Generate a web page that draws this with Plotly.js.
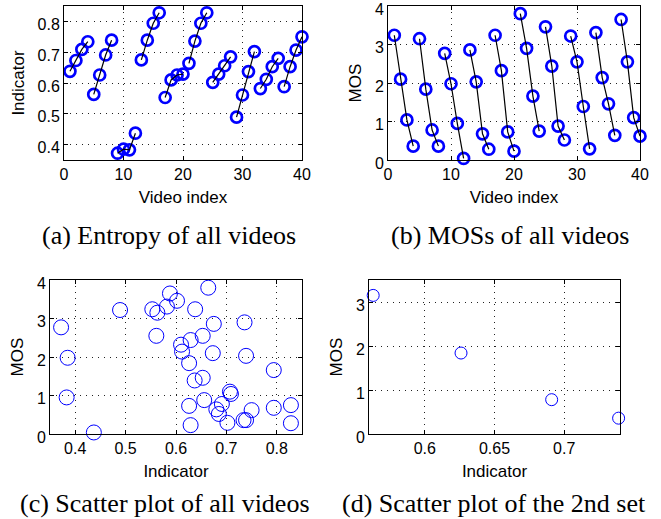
<!DOCTYPE html>
<html>
<head>
<meta charset="utf-8">
<script src="https://cdn.plot.ly/plotly-3.0.1.min.js"></script>
<style>html,body{margin:0;padding:0;background:#fff;}#chart{width:661px;height:519px;}</style>
</head>
<body>
<div id="chart"></div>
<script>
// Video indices 1..40
var videoIndex = [];
for (var i = 1; i <= 40; i++) videoIndex.push(i);

// Indicator (entropy) per video
var indicator = [0.638, 0.673, 0.709, 0.734, 0.563, 0.626, 0.691, 0.739,
                 0.372, 0.385, 0.383, 0.437, 0.675, 0.739, 0.794, 0.828,
                 0.553, 0.610, 0.626, 0.629, 0.664, 0.736, 0.794, 0.828,
                 0.602, 0.629, 0.656, 0.685, 0.489, 0.561, 0.637, 0.702,
                 0.582, 0.612, 0.653, 0.680, 0.588, 0.653, 0.707, 0.750];

// MOS per video
var mos = [3.24, 2.10, 1.04, 0.36, 3.15, 1.84, 0.78, 0.36,
           2.77, 1.98, 0.95, 0.04, 2.86, 2.03, 0.68, 0.28,
           3.24, 2.32, 0.73, 0.23, 3.80, 2.90, 1.66, 0.75,
           3.46, 2.44, 0.88, 0.52, 3.22, 2.55, 1.39, 0.29,
           3.31, 2.14, 1.46, 0.64, 3.65, 2.55, 1.10, 0.62];

var groupSize = 4;
var secondSet = 1; // 0-based index of the 2nd set

var captions = ["(a) Entropy of all videos", "(b) MOSs of all videos",
                "(c) Scatter plot of all videos", "(d) Scatter plot of the 2nd set"];

// build group-wise line data (null separators between groups)
function groupLines(xs, ys) {
  var gx = [], gy = [];
  for (var g = 0; g < xs.length / groupSize; g++) {
    for (var k = 0; k < groupSize; k++) {
      gx.push(xs[g * groupSize + k]); gy.push(ys[g * groupSize + k]);
    }
    gx.push(null); gy.push(null);
  }
  return {x: gx, y: gy};
}
var la = groupLines(videoIndex, indicator);
var lb = groupLines(videoIndex, mos);
var setX = indicator.slice(secondSet * groupSize, (secondSet + 1) * groupSize);
var setY = mos.slice(secondSet * groupSize, (secondSet + 1) * groupSize);

var blue = '#0000ff';
var thickMarker = {symbol: 'circle-open', size: 11, color: blue, line: {width: 2.7, color: blue}};
var thinMarker = {symbol: 'circle-open', size: 15, color: blue, line: {width: 1, color: blue}};

var traces = [
  {x: videoIndex, y: indicator, mode: 'markers', marker: thickMarker, xaxis: 'x', yaxis: 'y', cliponaxis: false},
  {x: la.x, y: la.y, mode: 'lines', line: {color: '#000', width: 1.2}, connectgaps: false, xaxis: 'x', yaxis: 'y'},
  {x: videoIndex, y: mos, mode: 'markers', marker: thickMarker, xaxis: 'x2', yaxis: 'y2', cliponaxis: false},
  {x: lb.x, y: lb.y, mode: 'lines', line: {color: '#000', width: 1.2}, connectgaps: false, xaxis: 'x2', yaxis: 'y2'},
  {x: indicator, y: mos, mode: 'markers', marker: thinMarker, xaxis: 'x3', yaxis: 'y3', cliponaxis: false},
  {x: setX, y: setY, mode: 'markers', marker: {symbol: 'circle-open', size: 12, color: blue, line: {width: 1, color: blue}}, xaxis: 'x4', yaxis: 'y4', cliponaxis: false}
];

var tickFont = {family: 'Liberation Sans, Arial, sans-serif', size: 16, color: '#000'};
var titleFont = {family: 'Liberation Sans, Arial, sans-serif', size: 17, color: '#000'};

function ax(domain, range, dtick, anchor, title, tick0, standoff, isY) {
  var a = {
    domain: domain, range: range, dtick: dtick, tick0: tick0 || 0, tickmode: 'linear',
    anchor: anchor, showline: true, mirror: 'ticks', linecolor: '#000', linewidth: 1,
    ticks: 'inside', ticklen: 4, tickcolor: '#000', ticklabeloverflow: 'allow',
    showgrid: true, gridcolor: '#222', griddash: '1px,5px', gridwidth: 1,
    zeroline: false, tickfont: tickFont, automargin: false,
    title: {text: title, font: titleFont, standoff: standoff}
  };
  if (isY) a.ticklabelshift = 3;
  return a;
}

function py(p) { return 1 - p / 519; }
function px(p) { return p / 661; }

var layout = {
  width: 661, height: 519,
  margin: {l: 0, r: 0, t: 0, b: 0},
  paper_bgcolor: '#fff', plot_bgcolor: '#fff',
  showlegend: false,
  xaxis: ax([px(64), px(302)], [0, 40], 10, 'y', 'Video index', 0, 8),
  yaxis: ax([py(160), py(6)], [0.35, 0.85], 0.1, 'x', 'Indicator', 0.4, 8, true),
  xaxis2: ax([px(388), px(640)], [0, 40], 10, 'y2', 'Video index', 0, 8),
  yaxis2: ax([py(160), py(6)], [0, 4], 1, 'x2', 'MOS', 0, 8, true),
  xaxis3: ax([px(50), px(302)], [0.35, 0.85], 0.1, 'y3', 'Indicator', 0.4, 8),
  yaxis3: ax([py(434), py(280)], [0, 4], 1, 'x3', 'MOS', 0, 8, true),
  xaxis4: ax([px(369), px(620)], [0.56, 0.74], 0.05, 'y4', 'Indicator', 0.6, 8),
  yaxis4: ax([py(434), py(280)], [0, 3.5], 1, 'x4', 'MOS', 0, 8, true),
  annotations: [
    {text: captions[0], x: px(169), y: py(236)},
    {text: captions[1], x: px(510), y: py(236)},
    {text: captions[2], x: px(165), y: py(503)},
    {text: captions[3], x: px(494), y: py(503)}
  ].map(function (a) {
    a.xref = 'paper'; a.yref = 'paper'; a.showarrow = false;
    a.xanchor = 'center'; a.yanchor = 'middle';
    a.font = {family: 'Liberation Serif, Times New Roman, serif', size: 26, color: '#000'};
    return a;
  })
};

Plotly.newPlot('chart', traces, layout, {staticPlot: true, displayModeBar: false});
</script>
</body>
</html>
